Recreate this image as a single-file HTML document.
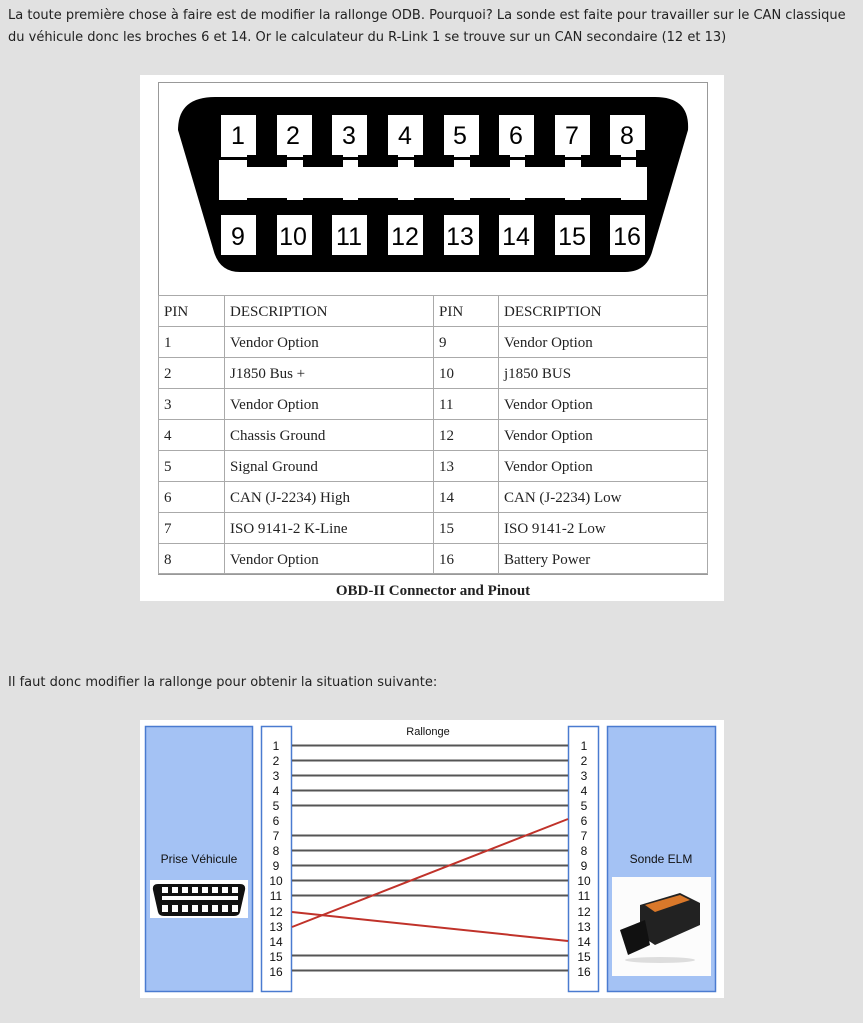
<!DOCTYPE html>
<html><head><meta charset="utf-8"><style>
html,body{margin:0;padding:0;background:#e1e1e1;width:863px;height:1023px;overflow:hidden;}
body{position:relative;font-family:"DejaVu Sans","Liberation Sans",sans-serif;color:#222;}
.p{position:absolute;left:8px;font-size:13px;line-height:22px;}
svg{position:absolute;left:0;top:0;}
</style></head><body>
<div class="p" style="top:5px;width:850px">La toute première chose à faire est de modifier la rallonge ODB. Pourquoi? La sonde est faite pour travailler sur le CAN classique du véhicule donc les broches 6 et 14. Or le calculateur du R-Link 1 se trouve sur un CAN secondaire (12 et 13)</div>
<div class="p" style="top:672px">Il faut donc modifier la rallonge pour obtenir la situation suivante:</div>
<svg width="863" height="1023" xmlns="http://www.w3.org/2000/svg">
<rect x="140" y="75" width="584" height="526" fill="#fff"/>
<rect x="158.5" y="82.5" width="549" height="492" fill="none" stroke="#999"/>
<!-- connector -->
<path d="M215,97 L655,97 Q690,97 688,130 L652,252 Q646,272 625,272 L240,272 Q220,272 214,252 L178,130 Q178,97 215,97 Z" fill="#000"/>
<rect x="219" y="160" width="428" height="40" fill="#fff"/>
<g font-family="Liberation Sans,sans-serif" font-size="25" text-anchor="middle" fill="#000">
<g>
<rect x="221" y="115" width="35" height="42" fill="#fff"/>
<rect x="277" y="115" width="35" height="42" fill="#fff"/>
<rect x="332" y="115" width="35" height="42" fill="#fff"/>
<rect x="388" y="115" width="35" height="42" fill="#fff"/>
<rect x="444" y="115" width="35" height="42" fill="#fff"/>
<rect x="499" y="115" width="35" height="42" fill="#fff"/>
<rect x="555" y="115" width="35" height="42" fill="#fff"/>
<rect x="610" y="115" width="35" height="42" fill="#fff"/>
<rect x="221" y="215" width="35" height="40" fill="#fff"/>
<rect x="277" y="215" width="35" height="40" fill="#fff"/>
<rect x="332" y="215" width="35" height="40" fill="#fff"/>
<rect x="388" y="215" width="35" height="40" fill="#fff"/>
<rect x="444" y="215" width="35" height="40" fill="#fff"/>
<rect x="499" y="215" width="35" height="40" fill="#fff"/>
<rect x="555" y="215" width="35" height="40" fill="#fff"/>
<rect x="610" y="215" width="35" height="40" fill="#fff"/>
</g>
<g fill="#000">
<rect x="247" y="155" width="40" height="12"/><rect x="303" y="155" width="40" height="12"/><rect x="358" y="155" width="40" height="12"/><rect x="414" y="155" width="40" height="12"/><rect x="470" y="155" width="40" height="12"/><rect x="525" y="155" width="40" height="12"/><rect x="581" y="155" width="40" height="12"/><rect x="636" y="150" width="15" height="17"/>
<rect x="247" y="198" width="40" height="12"/><rect x="303" y="198" width="40" height="12"/><rect x="358" y="198" width="40" height="12"/><rect x="414" y="198" width="40" height="12"/><rect x="470" y="198" width="40" height="12"/><rect x="525" y="198" width="40" height="12"/><rect x="581" y="198" width="40" height="12"/>
<rect x="260" y="198" width="14" height="20"/><rect x="316" y="198" width="14" height="20"/><rect x="371" y="198" width="14" height="20"/><rect x="427" y="198" width="14" height="20"/><rect x="483" y="198" width="14" height="20"/><rect x="538" y="198" width="14" height="20"/><rect x="594" y="198" width="14" height="20"/>
</g>
<text x="238" y="144">1</text><text x="293" y="144">2</text><text x="349" y="144">3</text><text x="405" y="144">4</text><text x="460" y="144">5</text><text x="516" y="144">6</text><text x="572" y="144">7</text><text x="627" y="144">8</text>
<text x="238" y="245">9</text><text x="293" y="245">10</text><text x="349" y="245">11</text><text x="405" y="245">12</text><text x="460" y="245">13</text><text x="516" y="245">14</text><text x="572" y="245">15</text><text x="627" y="245">16</text>
</g>
<!-- table -->
<g stroke="#aaa" stroke-width="1" fill="none">
<rect x="158.5" y="295.5" width="549" height="278"/>
<line x1="224.5" y1="295" x2="224.5" y2="574"/><line x1="433.5" y1="295" x2="433.5" y2="574"/><line x1="498.5" y1="295" x2="498.5" y2="574"/>
<line x1="158" y1="326.5" x2="708" y2="326.5"/><line x1="158" y1="357.5" x2="708" y2="357.5"/><line x1="158" y1="388.5" x2="708" y2="388.5"/><line x1="158" y1="419.5" x2="708" y2="419.5"/><line x1="158" y1="450.5" x2="708" y2="450.5"/><line x1="158" y1="481.5" x2="708" y2="481.5"/><line x1="158" y1="512.5" x2="708" y2="512.5"/><line x1="158" y1="543.5" x2="708" y2="543.5"/>
</g>
<g font-family="Liberation Serif,serif" font-size="15" fill="#222">
<text x="164" y="316">PIN</text><text x="230" y="316">DESCRIPTION</text><text x="439" y="316">PIN</text><text x="504" y="316">DESCRIPTION</text>
<text x="164" y="347">1</text><text x="230" y="347">Vendor Option</text><text x="439" y="347">9</text><text x="504" y="347">Vendor Option</text>
<text x="164" y="378">2</text><text x="230" y="378">J1850 Bus +</text><text x="439" y="378">10</text><text x="504" y="378">j1850 BUS</text>
<text x="164" y="409">3</text><text x="230" y="409">Vendor Option</text><text x="439" y="409">11</text><text x="504" y="409">Vendor Option</text>
<text x="164" y="440">4</text><text x="230" y="440">Chassis Ground</text><text x="439" y="440">12</text><text x="504" y="440">Vendor Option</text>
<text x="164" y="471">5</text><text x="230" y="471">Signal Ground</text><text x="439" y="471">13</text><text x="504" y="471">Vendor Option</text>
<text x="164" y="502">6</text><text x="230" y="502">CAN (J-2234) High</text><text x="439" y="502">14</text><text x="504" y="502">CAN (J-2234) Low</text>
<text x="164" y="533">7</text><text x="230" y="533">ISO 9141-2 K-Line</text><text x="439" y="533">15</text><text x="504" y="533">ISO 9141-2 Low</text>
<text x="164" y="564">8</text><text x="230" y="564">Vendor Option</text><text x="439" y="564">16</text><text x="504" y="564">Battery Power</text>
<text x="433" y="595" text-anchor="middle" font-weight="bold">OBD-II Connector and Pinout</text>
</g>
<!-- lower diagram -->
<rect x="140" y="720" width="584" height="278" fill="#fff"/>
<rect x="145.5" y="726.5" width="107" height="265" fill="#a4c2f4" stroke="#4a7bd0" stroke-width="1.5"/>
<rect x="607.5" y="726.5" width="108" height="265" fill="#a4c2f4" stroke="#4a7bd0" stroke-width="1.5"/>
<rect x="261.5" y="726.5" width="30" height="265" fill="#fff" stroke="#4a7bd0" stroke-width="1.5"/>
<rect x="568.5" y="726.5" width="30" height="265" fill="#fff" stroke="#4a7bd0" stroke-width="1.5"/>
<g stroke="#555" stroke-width="2">
<line x1="292" y1="745.5" x2="568" y2="745.5"/><line x1="292" y1="760.5" x2="568" y2="760.5"/><line x1="292" y1="775.5" x2="568" y2="775.5"/><line x1="292" y1="790.5" x2="568" y2="790.5"/><line x1="292" y1="805.5" x2="568" y2="805.5"/>
<line x1="292" y1="835.5" x2="568" y2="835.5"/><line x1="292" y1="850.5" x2="568" y2="850.5"/><line x1="292" y1="865.5" x2="568" y2="865.5"/><line x1="292" y1="880.5" x2="568" y2="880.5"/><line x1="292" y1="895.5" x2="568" y2="895.5"/>
<line x1="292" y1="955.5" x2="568" y2="955.5"/><line x1="292" y1="970.5" x2="568" y2="970.5"/>
</g>
<g stroke="#c0322a" stroke-width="2">
<line x1="292" y1="927" x2="568" y2="819"/>
<line x1="292" y1="912" x2="568" y2="941"/>
</g>
<g font-family="Liberation Sans,sans-serif" font-size="12" fill="#111" text-anchor="middle">
<text x="428" y="735" font-size="11">Rallonge</text>
<text x="199" y="863">Prise Véhicule</text>
<text x="661" y="863">Sonde ELM</text>
</g>
<g font-family="Liberation Sans,sans-serif" font-size="12" fill="#111" text-anchor="middle">
<text x="276" y="750">1</text><text x="276" y="765">2</text><text x="276" y="780">3</text><text x="276" y="795">4</text><text x="276" y="810">5</text><text x="276" y="825">6</text><text x="276" y="840">7</text><text x="276" y="855">8</text><text x="276" y="870">9</text><text x="276" y="885">10</text><text x="276" y="900">11</text><text x="276" y="916">12</text><text x="276" y="931">13</text><text x="276" y="946">14</text><text x="276" y="961">15</text><text x="276" y="976">16</text>
<text x="584" y="750">1</text><text x="584" y="765">2</text><text x="584" y="780">3</text><text x="584" y="795">4</text><text x="584" y="810">5</text><text x="584" y="825">6</text><text x="584" y="840">7</text><text x="584" y="855">8</text><text x="584" y="870">9</text><text x="584" y="885">10</text><text x="584" y="900">11</text><text x="584" y="916">12</text><text x="584" y="931">13</text><text x="584" y="946">14</text><text x="584" y="961">15</text><text x="584" y="976">16</text>
</g>
<!-- small connector image -->
<rect x="150" y="880" width="98" height="38" fill="#fff"/>
<path d="M158,884 L240,884 Q246,884 245,890 L240,912 Q239,916 234,916 L164,916 Q159,916 158,912 L153,890 Q152,884 158,884 Z" fill="#111"/>
<g fill="#fff">
<rect x="162" y="887" width="6" height="6"/><rect x="172" y="887" width="6" height="6"/><rect x="182" y="887" width="6" height="6"/><rect x="192" y="887" width="6" height="6"/><rect x="202" y="887" width="6" height="6"/><rect x="212" y="887" width="6" height="6"/><rect x="222" y="887" width="6" height="6"/><rect x="232" y="887" width="6" height="6"/>
<rect x="162" y="896" width="76" height="4"/>
<rect x="162" y="905" width="6" height="7"/><rect x="172" y="905" width="6" height="7"/><rect x="182" y="905" width="6" height="7"/><rect x="192" y="905" width="6" height="7"/><rect x="202" y="905" width="6" height="7"/><rect x="212" y="905" width="6" height="7"/><rect x="222" y="905" width="6" height="7"/><rect x="232" y="905" width="6" height="7"/>
</g>
<!-- ELM image -->
<rect x="612" y="877" width="99" height="99" fill="#fcfcfc"/>
<path d="M640,905 L680,893 L700,903 L700,925 L655,945 L640,935 Z" fill="#222"/>
<path d="M645,905 L680,895 L690,900 L655,912 Z" fill="#d9782a"/>
<path d="M620,930 L645,920 L650,945 L628,955 Z" fill="#111"/>
<ellipse cx="660" cy="960" rx="35" ry="3" fill="#ddd"/>
</svg>
</body></html>
